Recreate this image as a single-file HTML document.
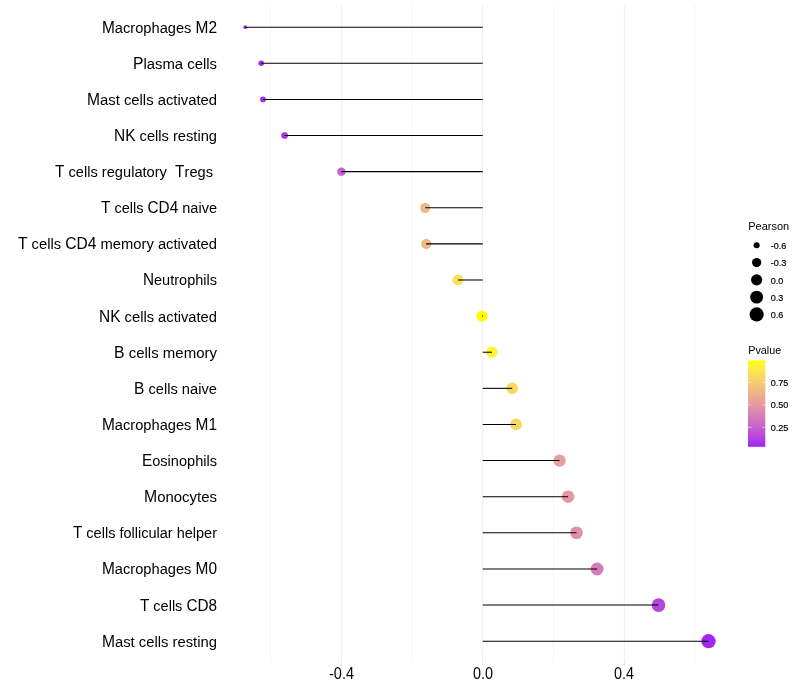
<!DOCTYPE html>
<html><head><meta charset="utf-8"><title>Pearson lollipop</title>
<style>
html,body{margin:0;padding:0;background:#fff;}
svg{display:block;}
text{font-family:"Liberation Sans",Arial,sans-serif;fill:#000;}
.yl{font-size:15.36px;white-space:pre;}
.xl{font-size:16px;}
.cp{font-size:16.2px;}
.lt{font-size:11px;}
.ll{font-size:9.8px;stroke:#000;stroke-width:0.2px;}
</style></head><body>
<svg width="800" height="700" viewBox="0 0 800 700">
<rect width="800" height="700" fill="#fff"/>

<line x1="270.50" y1="5.5" x2="270.50" y2="662.84" stroke="#DEDEDE" stroke-width="0.27"/>
<line x1="412.00" y1="5.5" x2="412.00" y2="662.84" stroke="#DEDEDE" stroke-width="0.27"/>
<line x1="553.50" y1="5.5" x2="553.50" y2="662.84" stroke="#DEDEDE" stroke-width="0.27"/>
<line x1="695.00" y1="5.5" x2="695.00" y2="662.84" stroke="#DEDEDE" stroke-width="0.27"/>
<line x1="341.40" y1="5.5" x2="341.40" y2="662.84" stroke="#DEDEDE" stroke-width="0.53"/>
<line x1="341.40" y1="662.84" x2="341.40" y2="665.59" stroke="#B3B3B3" stroke-width="0.53"/>
<line x1="482.60" y1="5.5" x2="482.60" y2="662.84" stroke="#DEDEDE" stroke-width="0.53"/>
<line x1="482.60" y1="662.84" x2="482.60" y2="665.59" stroke="#B3B3B3" stroke-width="0.53"/>
<line x1="624.40" y1="5.5" x2="624.40" y2="662.84" stroke="#DEDEDE" stroke-width="0.53"/>
<line x1="624.40" y1="662.84" x2="624.40" y2="665.59" stroke="#B3B3B3" stroke-width="0.53"/>
<circle cx="245.20" cy="27.17" r="1.80" fill="#A020F0"/>
<circle cx="261.20" cy="63.29" r="2.79" fill="#A428ED"/>
<circle cx="263.00" cy="99.41" r="2.84" fill="#A529ED"/>
<circle cx="284.60" cy="135.52" r="3.35" fill="#AC36E7"/>
<circle cx="341.40" cy="171.64" r="4.23" fill="#C761CD"/>
<circle cx="425.20" cy="207.76" r="5.12" fill="#F0B886"/>
<circle cx="426.20" cy="243.88" r="5.13" fill="#F0B984"/>
<circle cx="458.00" cy="279.99" r="5.41" fill="#FAE057"/>
<circle cx="482.00" cy="316.11" r="5.61" fill="#FFFF00"/>
<circle cx="492.00" cy="352.23" r="5.69" fill="#FEF433"/>
<circle cx="512.20" cy="388.35" r="5.85" fill="#F9DA5F"/>
<circle cx="516.00" cy="424.46" r="5.87" fill="#F8D665"/>
<circle cx="559.60" cy="460.58" r="6.19" fill="#E8A19A"/>
<circle cx="568.10" cy="496.70" r="6.25" fill="#E498A2"/>
<circle cx="576.50" cy="532.82" r="6.31" fill="#E08FAA"/>
<circle cx="597.10" cy="568.94" r="6.45" fill="#D67ABB"/>
<circle cx="658.50" cy="605.05" r="6.83" fill="#B645DE"/>
<circle cx="708.50" cy="641.17" r="7.13" fill="#A326EE"/>
<line x1="482.75" y1="27.17" x2="245.20" y2="27.17" stroke="#000" stroke-width="1.07"/>
<line x1="482.75" y1="63.29" x2="261.20" y2="63.29" stroke="#000" stroke-width="1.07"/>
<line x1="482.75" y1="99.41" x2="263.00" y2="99.41" stroke="#000" stroke-width="1.07"/>
<line x1="482.75" y1="135.52" x2="284.60" y2="135.52" stroke="#000" stroke-width="1.07"/>
<line x1="482.75" y1="171.64" x2="341.40" y2="171.64" stroke="#000" stroke-width="1.07"/>
<line x1="482.75" y1="207.76" x2="425.20" y2="207.76" stroke="#000" stroke-width="1.07"/>
<line x1="482.75" y1="243.88" x2="426.20" y2="243.88" stroke="#000" stroke-width="1.07"/>
<line x1="482.75" y1="279.99" x2="458.00" y2="279.99" stroke="#000" stroke-width="1.07"/>
<line x1="482.75" y1="316.11" x2="482.00" y2="316.11" stroke="#000" stroke-width="1.07"/>
<line x1="482.75" y1="352.23" x2="492.00" y2="352.23" stroke="#000" stroke-width="1.07"/>
<line x1="482.75" y1="388.35" x2="512.20" y2="388.35" stroke="#000" stroke-width="1.07"/>
<line x1="482.75" y1="424.46" x2="516.00" y2="424.46" stroke="#000" stroke-width="1.07"/>
<line x1="482.75" y1="460.58" x2="559.60" y2="460.58" stroke="#000" stroke-width="1.07"/>
<line x1="482.75" y1="496.70" x2="568.10" y2="496.70" stroke="#000" stroke-width="1.07"/>
<line x1="482.75" y1="532.82" x2="576.50" y2="532.82" stroke="#000" stroke-width="1.07"/>
<line x1="482.75" y1="568.94" x2="597.10" y2="568.94" stroke="#000" stroke-width="1.07"/>
<line x1="482.75" y1="605.05" x2="658.50" y2="605.05" stroke="#000" stroke-width="1.07"/>
<line x1="482.75" y1="641.17" x2="708.50" y2="641.17" stroke="#000" stroke-width="1.07"/>
<text class="yl" xml:space="preserve" x="102.00" y="33" textLength="115.0" lengthAdjust="spacingAndGlyphs"><tspan class="cp">M</tspan>acrophages <tspan class="cp">M2</tspan></text>
<text class="yl" xml:space="preserve" x="133.00" y="69" textLength="84.0" lengthAdjust="spacingAndGlyphs"><tspan class="cp">P</tspan>lasma cells</text>
<text class="yl" xml:space="preserve" x="87.00" y="105" textLength="130.0" lengthAdjust="spacingAndGlyphs"><tspan class="cp">M</tspan>ast cells activated</text>
<text class="yl" xml:space="preserve" x="114.00" y="141" textLength="103.0" lengthAdjust="spacingAndGlyphs"><tspan class="cp">NK</tspan> cells resting</text>
<text class="yl" xml:space="preserve" x="55.00" y="177" textLength="158.0" lengthAdjust="spacingAndGlyphs"><tspan class="cp">T</tspan> cells regulatory  <tspan class="cp">T</tspan>regs</text>
<text class="yl" xml:space="preserve" x="101.00" y="213" textLength="116.0" lengthAdjust="spacingAndGlyphs"><tspan class="cp">T</tspan> cells <tspan class="cp">CD4</tspan> naive</text>
<text class="yl" xml:space="preserve" x="18.00" y="249" textLength="199.0" lengthAdjust="spacingAndGlyphs"><tspan class="cp">T</tspan> cells <tspan class="cp">CD4</tspan> memory activated</text>
<text class="yl" xml:space="preserve" x="143.00" y="285" textLength="74.0" lengthAdjust="spacingAndGlyphs"><tspan class="cp">N</tspan>eutrophils</text>
<text class="yl" xml:space="preserve" x="99.00" y="322" textLength="118.0" lengthAdjust="spacingAndGlyphs"><tspan class="cp">NK</tspan> cells activated</text>
<text class="yl" xml:space="preserve" x="114.00" y="358" textLength="103.0" lengthAdjust="spacingAndGlyphs"><tspan class="cp">B</tspan> cells memory</text>
<text class="yl" xml:space="preserve" x="134.00" y="394" textLength="83.0" lengthAdjust="spacingAndGlyphs"><tspan class="cp">B</tspan> cells naive</text>
<text class="yl" xml:space="preserve" x="102.00" y="430" textLength="115.0" lengthAdjust="spacingAndGlyphs"><tspan class="cp">M</tspan>acrophages <tspan class="cp">M1</tspan></text>
<text class="yl" xml:space="preserve" x="142.00" y="466" textLength="75.0" lengthAdjust="spacingAndGlyphs"><tspan class="cp">E</tspan>osinophils</text>
<text class="yl" xml:space="preserve" x="144.00" y="502" textLength="73.0" lengthAdjust="spacingAndGlyphs"><tspan class="cp">M</tspan>onocytes</text>
<text class="yl" xml:space="preserve" x="73.00" y="538" textLength="144.0" lengthAdjust="spacingAndGlyphs"><tspan class="cp">T</tspan> cells follicular helper</text>
<text class="yl" xml:space="preserve" x="102.00" y="574" textLength="115.0" lengthAdjust="spacingAndGlyphs"><tspan class="cp">M</tspan>acrophages <tspan class="cp">M0</tspan></text>
<text class="yl" xml:space="preserve" x="140.00" y="611" textLength="77.0" lengthAdjust="spacingAndGlyphs"><tspan class="cp">T</tspan> cells <tspan class="cp">CD8</tspan></text>
<text class="yl" xml:space="preserve" x="102.00" y="647" textLength="115.0" lengthAdjust="spacingAndGlyphs"><tspan class="cp">M</tspan>ast cells resting</text>
<text class="xl" x="329" y="679" textLength="25.0" lengthAdjust="spacingAndGlyphs">-0.4</text>
<text class="xl" x="473" y="679" textLength="20.0" lengthAdjust="spacingAndGlyphs">0.0</text>
<text class="xl" x="614" y="679" textLength="20.0" lengthAdjust="spacingAndGlyphs">0.4</text>
<text class="lt" x="748.2" y="230">Pearson</text>
<circle cx="756.64" cy="245.30" r="3.04" fill="#000"/>
<text class="ll" x="770.8" y="248.9" textLength="15.60" lengthAdjust="spacingAndGlyphs">-0.6</text>
<circle cx="756.64" cy="262.58" r="4.64" fill="#000"/>
<text class="ll" x="770.8" y="265.9" textLength="15.60" lengthAdjust="spacingAndGlyphs">-0.3</text>
<circle cx="756.64" cy="279.86" r="5.62" fill="#000"/>
<text class="ll" x="770.8" y="283.9" textLength="12.60" lengthAdjust="spacingAndGlyphs">0.0</text>
<circle cx="756.64" cy="297.14" r="6.39" fill="#000"/>
<text class="ll" x="770.8" y="300.9" textLength="12.60" lengthAdjust="spacingAndGlyphs">0.3</text>
<circle cx="756.64" cy="314.42" r="7.05" fill="#000"/>
<text class="ll" x="770.8" y="317.9" textLength="12.60" lengthAdjust="spacingAndGlyphs">0.6</text>
<text class="lt" x="748.2" y="354" textLength="33.0" lengthAdjust="spacingAndGlyphs">Pvalue</text>
<defs><linearGradient id="cb" x1="0" y1="0" x2="0" y2="1"><stop offset="0.000" stop-color="#FFFF00"/><stop offset="0.050" stop-color="#FEF530"/><stop offset="0.100" stop-color="#FCEB46"/><stop offset="0.150" stop-color="#FBE156"/><stop offset="0.200" stop-color="#F8D763"/><stop offset="0.250" stop-color="#F6CD6F"/><stop offset="0.300" stop-color="#F3C37A"/><stop offset="0.350" stop-color="#F0B984"/><stop offset="0.400" stop-color="#EDAF8E"/><stop offset="0.450" stop-color="#E9A597"/><stop offset="0.500" stop-color="#E59BA0"/><stop offset="0.550" stop-color="#E190A9"/><stop offset="0.600" stop-color="#DC86B1"/><stop offset="0.650" stop-color="#D67BB9"/><stop offset="0.700" stop-color="#D171C1"/><stop offset="0.750" stop-color="#CA66C9"/><stop offset="0.800" stop-color="#C35AD1"/><stop offset="0.850" stop-color="#BC4ED9"/><stop offset="0.900" stop-color="#B441E1"/><stop offset="0.950" stop-color="#AA33E8"/><stop offset="1.000" stop-color="#A020F0"/></linearGradient></defs>
<rect x="748.0" y="360.4" width="17.28" height="86.4" fill="url(#cb)"/>
<line x1="748.0" y1="382.44" x2="751.46" y2="382.44" stroke="#fff" stroke-width="0.53"/>
<line x1="761.82" y1="382.44" x2="765.28" y2="382.44" stroke="#fff" stroke-width="0.53"/>
<text class="ll" x="770.8" y="385.9" textLength="17.60" lengthAdjust="spacingAndGlyphs">0.75</text>
<line x1="748.0" y1="404.90" x2="751.46" y2="404.90" stroke="#fff" stroke-width="0.53"/>
<line x1="761.82" y1="404.90" x2="765.28" y2="404.90" stroke="#fff" stroke-width="0.53"/>
<text class="ll" x="770.8" y="407.9" textLength="17.60" lengthAdjust="spacingAndGlyphs">0.50</text>
<line x1="748.0" y1="427.35" x2="751.46" y2="427.35" stroke="#fff" stroke-width="0.53"/>
<line x1="761.82" y1="427.35" x2="765.28" y2="427.35" stroke="#fff" stroke-width="0.53"/>
<text class="ll" x="770.8" y="430.9" textLength="17.60" lengthAdjust="spacingAndGlyphs">0.25</text>
</svg></body></html>
